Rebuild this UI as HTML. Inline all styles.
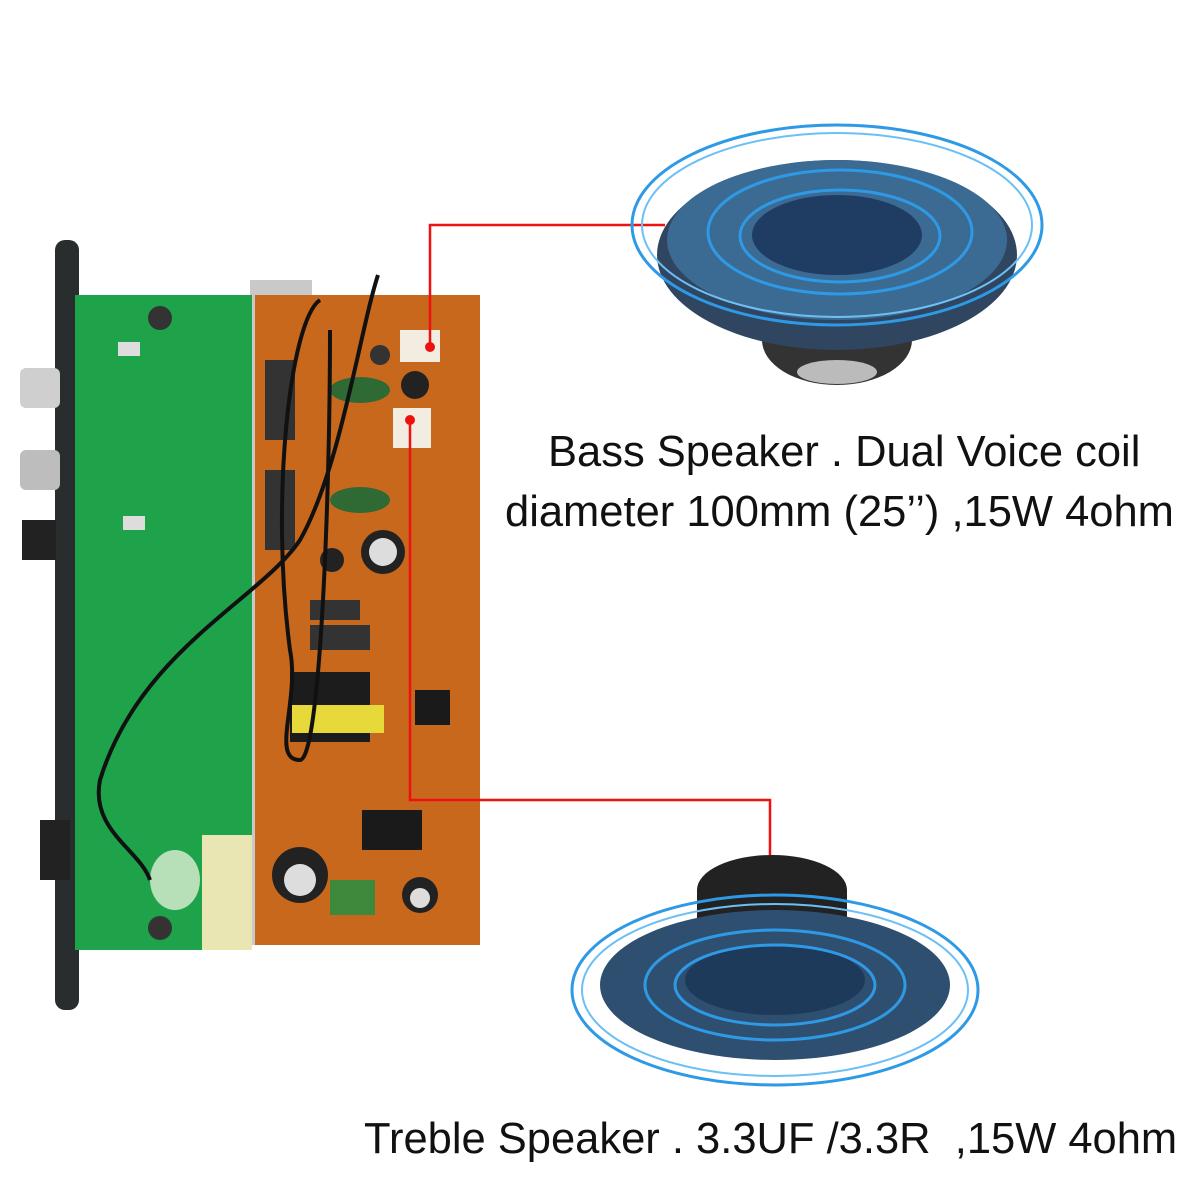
<!DOCTYPE html>
<html><head><style>
body{margin:0;width:1200px;height:1200px;background:#fff;position:relative;overflow:hidden;font-family:"Liberation Sans",sans-serif}
.t{position:absolute;font-size:43.5px;color:#111;white-space:nowrap}
</style></head><body>
<svg width="1200" height="1200" style="position:absolute;left:0;top:0">
<rect x="55" y="240" width="24" height="770" rx="10" fill="#2a2d2e"/>
<rect x="20" y="368" width="40" height="40" rx="6" fill="#cfcfcf"/>
<rect x="20" y="450" width="40" height="40" rx="6" fill="#bdbdbd"/>
<rect x="22" y="520" width="34" height="40" fill="#222"/>
<rect x="40" y="820" width="30" height="60" fill="#222"/>
<rect x="250" y="280" width="62" height="665" fill="#c9c9c9"/>
<rect x="255" y="295" width="225" height="650" fill="#c8681d"/>
<rect x="265" y="360" width="30" height="80" fill="#333"/>
<rect x="265" y="470" width="30" height="80" fill="#333"/>
<rect x="290" y="672" width="80" height="70" fill="#1c1c1c"/>
<rect x="292" y="705" width="92" height="28" fill="#e8d93a"/>
<ellipse cx="360" cy="390" rx="30" ry="13" fill="#2f6a35"/>
<ellipse cx="360" cy="500" rx="30" ry="13" fill="#2f6a35"/>
<circle cx="383" cy="552" r="22" fill="#222"/><circle cx="383" cy="552" r="14" fill="#ddd"/>
<circle cx="332" cy="560" r="12" fill="#222"/>
<circle cx="415" cy="385" r="14" fill="#222"/>
<circle cx="380" cy="355" r="10" fill="#333"/>
<rect x="415" y="690" width="35" height="35" fill="#1a1a1a"/>
<rect x="362" y="810" width="60" height="40" fill="#1a1a1a"/>
<circle cx="300" cy="875" r="28" fill="#222"/><circle cx="300" cy="880" r="16" fill="#ddd"/>
<circle cx="420" cy="895" r="18" fill="#222"/><circle cx="420" cy="898" r="10" fill="#ddd"/>
<rect x="330" y="880" width="45" height="35" fill="#3d8a3c"/>
<rect x="310" y="600" width="50" height="20" fill="#333"/>
<rect x="310" y="625" width="60" height="25" fill="#333"/>
<rect x="400" y="330" width="40" height="32" fill="#f3ece1"/>
<rect x="393" y="408" width="38" height="40" fill="#f3ece1"/>
<rect x="75" y="295" width="177" height="655" fill="#1fa34a"/>
<rect x="202" y="835" width="50" height="115" fill="#e9e6b4"/>
<circle cx="160" cy="318" r="12" fill="#333"/>
<circle cx="160" cy="928" r="12" fill="#333"/>
<ellipse cx="175" cy="880" rx="25" ry="30" fill="#b8e0b8"/>
<rect x="118" y="342" width="22" height="14" fill="#ddd"/>
<rect x="123" y="516" width="22" height="14" fill="#ddd"/>
<path d="M378 275 C360 330 340 470 300 540 C260 600 140 650 100 780 C90 830 140 850 150 880" stroke="#111" stroke-width="4" fill="none"/>
<path d="M320 300 C290 320 270 500 290 650 C300 700 270 760 300 760 C320 760 330 500 330 330" stroke="#111" stroke-width="4" fill="none"/>
<path d="M430 345 V225 H665" stroke="#e11" stroke-width="2.5" fill="none"/>
<path d="M410 420 V800 H770 V855" stroke="#e11" stroke-width="2.5" fill="none"/>
<circle cx="430" cy="347" r="5" fill="#e11"/><circle cx="410" cy="420" r="5" fill="#e11"/>
<ellipse cx="837" cy="340" rx="75" ry="45" fill="#333"/>
<ellipse cx="837" cy="372" rx="40" ry="12" fill="#bbb"/>
<ellipse cx="837" cy="255" rx="180" ry="95" fill="#2f4560"/>
<ellipse cx="837" cy="240" rx="170" ry="80" fill="#3b6a93"/>
<ellipse cx="837" cy="235" rx="85" ry="40" fill="#1f3d62"/>
<ellipse cx="837" cy="225" rx="205" ry="100" fill="none" stroke="#2e9ae6" stroke-width="3"/>
<ellipse cx="837" cy="225" rx="195" ry="92" fill="none" stroke="#6cc0f5" stroke-width="2"/>
<ellipse cx="840" cy="232" rx="132" ry="62" fill="none" stroke="#2e9ae6" stroke-width="3"/>
<ellipse cx="840" cy="236" rx="100" ry="46" fill="none" stroke="#2e9ae6" stroke-width="3"/>
<ellipse cx="772" cy="890" rx="75" ry="35" fill="#222"/>
<rect x="697" y="890" width="150" height="40" fill="#222"/>
<ellipse cx="775" cy="985" rx="175" ry="75" fill="#2f4f70"/>
<ellipse cx="775" cy="980" rx="90" ry="35" fill="#1e3a5a"/>
<ellipse cx="775" cy="990" rx="203" ry="95" fill="none" stroke="#2e9ae6" stroke-width="3"/>
<ellipse cx="775" cy="990" rx="193" ry="86" fill="none" stroke="#6cc0f5" stroke-width="2"/>
<ellipse cx="775" cy="985" rx="130" ry="55" fill="none" stroke="#2e9ae6" stroke-width="3"/>
<ellipse cx="775" cy="985" rx="100" ry="40" fill="none" stroke="#2e9ae6" stroke-width="3"/>
</svg>
<div class="t" style="left:548px;top:428px">Bass Speaker . Dual Voice coil</div>
<div class="t" style="left:505px;top:488px">diameter 100mm (25’’) ,15W 4ohm</div>
<div class="t" style="left:364px;top:1115px">Treble Speaker . 3.3UF /3.3R&nbsp;&nbsp;,15W 4ohm</div>
</body></html>
